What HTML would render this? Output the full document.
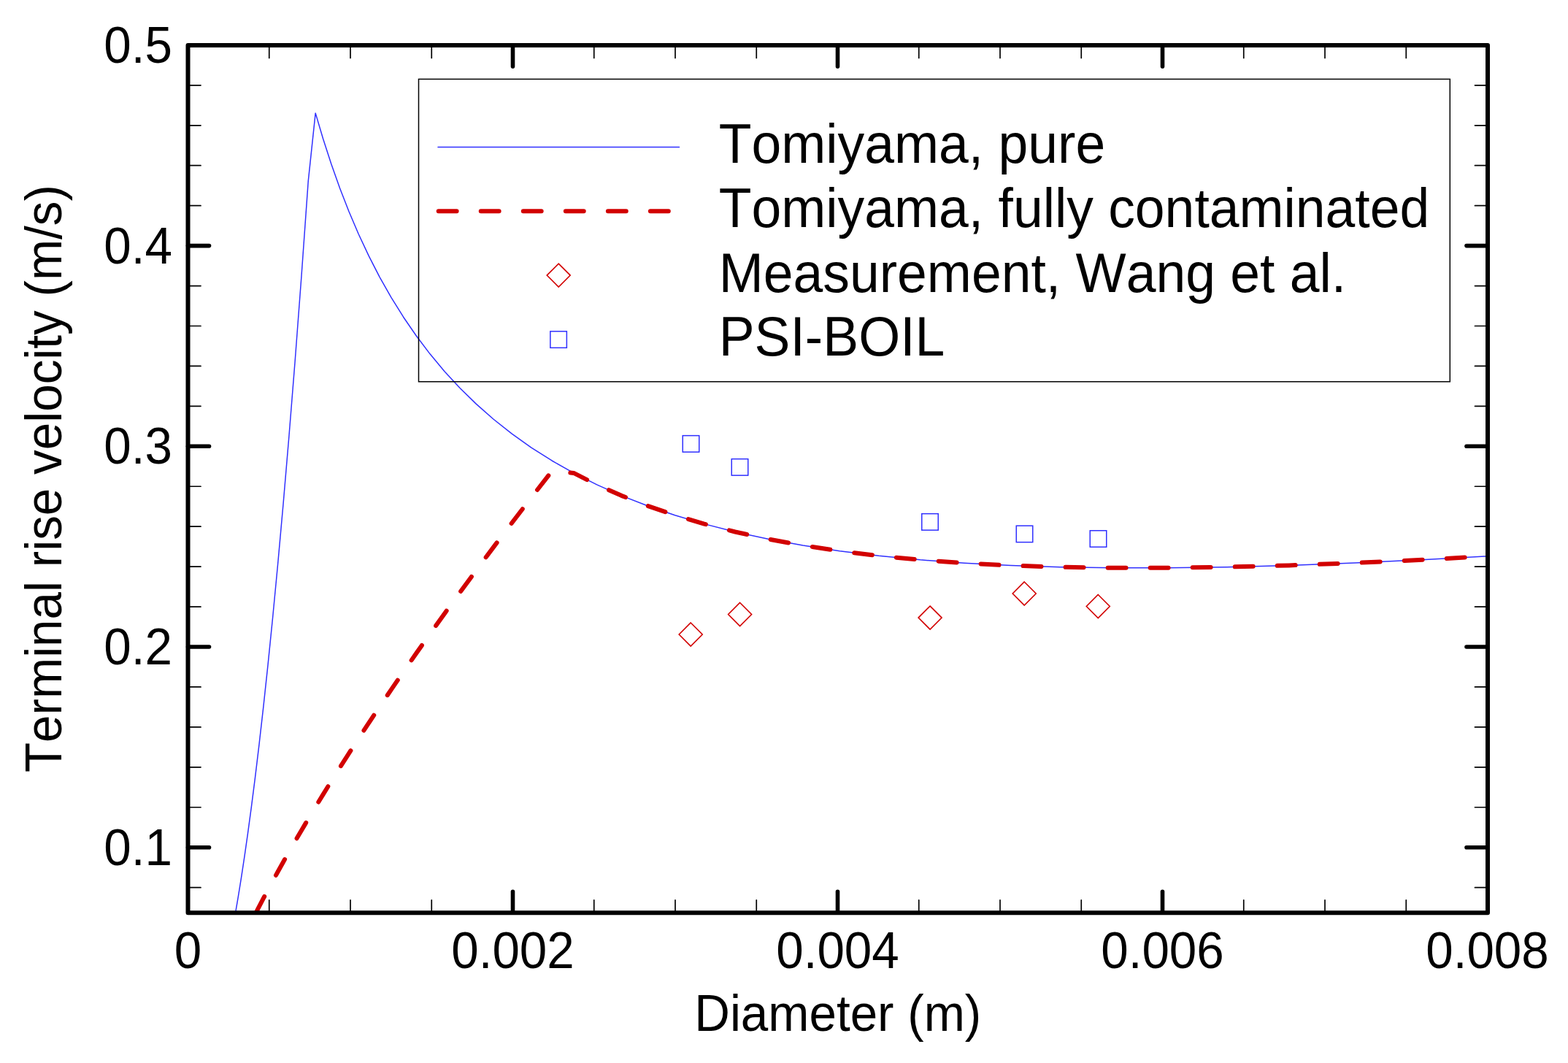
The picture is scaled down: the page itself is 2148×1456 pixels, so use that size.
<!DOCTYPE html>
<html><head><meta charset="utf-8"><style>
html,body{margin:0;padding:0;background:#fff;width:2148px;height:1456px;overflow:hidden}
svg{display:block}
text{font-family:"Liberation Sans",sans-serif;fill:#000;font-kerning:none;font-feature-settings:"kern" 0}
.tk{font-size:67.4px}
.lg{font-size:73.3px}
.mj{stroke:#000;stroke-width:5.6;stroke-linecap:round}
.mn{stroke:#000;stroke-width:1.7;stroke-linecap:round}
.rd{fill:none;stroke:#d20000;stroke-width:6;stroke-linecap:round;stroke-linejoin:round;stroke-dasharray:24.9 33.14}
.sq{fill:none;stroke:#3030ff;stroke-width:1.5}
.dm{fill:none;stroke:#d20000;stroke-width:1.6}
</style></head><body>
<svg width="2148" height="1456" viewBox="0 0 2148 1456">
<defs><clipPath id="pc"><rect x="257.5" y="61.9" width="1780.5" height="1188.3999999999999"/></clipPath></defs>
<rect width="2148" height="1456" fill="#fff"/>
<g clip-path="url(#pc)">
<polyline points="303.23,1343.95 305.97,1332.64 308.88,1319.94 311.96,1305.67 315.23,1289.64 318.69,1271.62 322.36,1251.38 326.26,1228.63 330.38,1203.07 334.75,1174.36 339.39,1142.09 344.30,1105.84 349.51,1065.11 355.03,1019.34 360.88,967.91 367.09,910.13 373.66,845.21 380.63,772.26 388.02,690.30 395.85,598.20 404.15,494.72 412.95,378.45 422.28,247.82 432.16,154.89 442.64,190.30 453.75,224.57 465.53,257.72 478.01,289.78 491.24,320.76 505.26,350.68 520.13,379.55 535.89,407.39 552.59,434.22 570.29,460.03 589.06,484.85 608.96,508.67 630.04,531.51 652.40,553.37 676.09,574.25 701.20,594.14 727.83,613.06 756.05,630.99 785.96,647.94 817.67,663.89 851.28,678.85 886.90,692.79 924.67,705.72 964.70,717.62 1007.13,728.48 1052.11,738.29 1099.78,747.04 1150.32,754.72 1203.89,761.32 1260.67,766.83 1320.86,771.25 1384.66,774.56 1452.29,776.75 1523.98,777.84 1599.97,777.81 1680.52,776.66 1765.90,774.40 1856.40,771.03 1952.34,766.55 2054.03,760.98 2161.82,754.32 2276.08,746.58" fill="none" stroke="#3030ff" stroke-width="1.5" stroke-linejoin="round"/>
<polyline points="303.23,1349.18 305.97,1343.00 308.88,1336.51 311.96,1329.70 315.23,1322.56 318.69,1315.08 322.36,1307.25 326.26,1299.07 330.38,1290.50 334.75,1281.55 339.39,1272.20 344.30,1262.42 349.51,1252.21 355.03,1241.55 360.88,1230.41 367.09,1218.78 373.66,1206.64 380.63,1193.96 388.02,1180.73 395.85,1166.91 404.15,1152.48 412.95,1137.41 422.28,1121.68 432.16,1105.25 442.64,1088.09 453.75,1070.17 465.53,1051.46 478.01,1031.91 491.24,1011.49 505.26,990.15 520.13,967.87 535.89,944.58 552.59,920.24 570.29,894.81 589.06,868.23 608.96,840.46 630.04,811.42 652.40,781.08 676.09,749.35 701.20,716.19 727.83,681.52 756.05,645.27 785.96,647.94 817.67,663.89 851.28,678.85 886.90,692.79 924.67,705.72 964.70,717.62 1007.13,728.48 1052.11,738.29 1099.78,747.04 1150.32,754.72 1203.89,761.32 1260.67,766.83 1320.86,771.25 1384.66,774.56 1452.29,776.75 1523.98,777.84 1599.97,777.81 1680.52,776.66 1765.90,774.40 1856.40,771.03 1952.34,766.55 2054.03,760.98 2161.82,754.32 2276.08,746.58" class="rd" stroke-dashoffset="-109.92"/>
</g>
<rect x="935.25" y="596.65" width="22.5" height="22.5" class="sq"/><rect x="1002.25" y="628.65" width="22.5" height="22.5" class="sq"/><rect x="1262.75" y="703.65" width="22.5" height="22.5" class="sq"/><rect x="1392.25" y="720.15" width="22.5" height="22.5" class="sq"/><rect x="1493.25" y="726.75" width="22.5" height="22.5" class="sq"/>
<path d="M946.20,853.00L962.20,869.00L946.20,885.00L930.20,869.00Z" class="dm"/><path d="M1013.60,825.50L1029.60,841.50L1013.60,857.50L997.60,841.50Z" class="dm"/><path d="M1274.10,830.10L1290.10,846.10L1274.10,862.10L1258.10,846.10Z" class="dm"/><path d="M1403.20,797.00L1419.20,813.00L1403.20,829.00L1387.20,813.00Z" class="dm"/><path d="M1504.30,814.50L1520.30,830.50L1504.30,846.50L1488.30,830.50Z" class="dm"/>

<rect x="573.5" y="108.4" width="1412.8" height="414.4" fill="none" stroke="#000" stroke-width="1.5"/>
<line x1="600" y1="201.5" x2="930.5" y2="201.5" stroke="#3030ff" stroke-width="1.5" stroke-linecap="round"/>
<line x1="600.7" y1="289.3" x2="930" y2="289.3" class="rd"/>
<path d="M765.2,361.1L781.2,377.1L765.2,393.1L749.2,377.1Z" class="dm"/>
<rect x="753.85" y="453.85" width="22.5" height="22.5" class="sq"/>
<text transform="translate(984.70,223.20) scale(1,1.049)" text-anchor="start" class="lg">Tomiyama, pure</text>
<text transform="translate(984.70,311.30) scale(1,1.049)" text-anchor="start" class="lg">Tomiyama, fully contaminated</text>
<text transform="translate(984.70,400.30) scale(1,1.049)" text-anchor="start" class="lg">Measurement, Wang et al.</text>
<text transform="translate(984.70,486.80) scale(1,1.049)" text-anchor="start" class="lg">PSI-BOIL</text>

<line x1="257.5" y1="1160.70" x2="286.5" y2="1160.70" class="mj"/><line x1="2038.0" y1="1160.70" x2="2009.0" y2="1160.70" class="mj"/><line x1="257.5" y1="886.00" x2="286.5" y2="886.00" class="mj"/><line x1="2038.0" y1="886.00" x2="2009.0" y2="886.00" class="mj"/><line x1="257.5" y1="611.30" x2="286.5" y2="611.30" class="mj"/><line x1="2038.0" y1="611.30" x2="2009.0" y2="611.30" class="mj"/><line x1="257.5" y1="336.60" x2="286.5" y2="336.60" class="mj"/><line x1="2038.0" y1="336.60" x2="2009.0" y2="336.60" class="mj"/><line x1="257.5" y1="1215.64" x2="275.0" y2="1215.64" class="mn"/><line x1="2038.0" y1="1215.64" x2="2020.5" y2="1215.64" class="mn"/><line x1="257.5" y1="1105.76" x2="275.0" y2="1105.76" class="mn"/><line x1="2038.0" y1="1105.76" x2="2020.5" y2="1105.76" class="mn"/><line x1="257.5" y1="1050.82" x2="275.0" y2="1050.82" class="mn"/><line x1="2038.0" y1="1050.82" x2="2020.5" y2="1050.82" class="mn"/><line x1="257.5" y1="995.88" x2="275.0" y2="995.88" class="mn"/><line x1="2038.0" y1="995.88" x2="2020.5" y2="995.88" class="mn"/><line x1="257.5" y1="940.94" x2="275.0" y2="940.94" class="mn"/><line x1="2038.0" y1="940.94" x2="2020.5" y2="940.94" class="mn"/><line x1="257.5" y1="831.06" x2="275.0" y2="831.06" class="mn"/><line x1="2038.0" y1="831.06" x2="2020.5" y2="831.06" class="mn"/><line x1="257.5" y1="776.12" x2="275.0" y2="776.12" class="mn"/><line x1="2038.0" y1="776.12" x2="2020.5" y2="776.12" class="mn"/><line x1="257.5" y1="721.18" x2="275.0" y2="721.18" class="mn"/><line x1="2038.0" y1="721.18" x2="2020.5" y2="721.18" class="mn"/><line x1="257.5" y1="666.24" x2="275.0" y2="666.24" class="mn"/><line x1="2038.0" y1="666.24" x2="2020.5" y2="666.24" class="mn"/><line x1="257.5" y1="556.36" x2="275.0" y2="556.36" class="mn"/><line x1="2038.0" y1="556.36" x2="2020.5" y2="556.36" class="mn"/><line x1="257.5" y1="501.42" x2="275.0" y2="501.42" class="mn"/><line x1="2038.0" y1="501.42" x2="2020.5" y2="501.42" class="mn"/><line x1="257.5" y1="446.48" x2="275.0" y2="446.48" class="mn"/><line x1="2038.0" y1="446.48" x2="2020.5" y2="446.48" class="mn"/><line x1="257.5" y1="391.54" x2="275.0" y2="391.54" class="mn"/><line x1="2038.0" y1="391.54" x2="2020.5" y2="391.54" class="mn"/><line x1="257.5" y1="281.66" x2="275.0" y2="281.66" class="mn"/><line x1="2038.0" y1="281.66" x2="2020.5" y2="281.66" class="mn"/><line x1="257.5" y1="226.72" x2="275.0" y2="226.72" class="mn"/><line x1="2038.0" y1="226.72" x2="2020.5" y2="226.72" class="mn"/><line x1="257.5" y1="171.78" x2="275.0" y2="171.78" class="mn"/><line x1="2038.0" y1="171.78" x2="2020.5" y2="171.78" class="mn"/><line x1="257.5" y1="116.84" x2="275.0" y2="116.84" class="mn"/><line x1="2038.0" y1="116.84" x2="2020.5" y2="116.84" class="mn"/><line x1="702.50" y1="1250.3" x2="702.50" y2="1221.3" class="mj"/><line x1="702.50" y1="61.9" x2="702.50" y2="90.9" class="mj"/><line x1="1147.50" y1="1250.3" x2="1147.50" y2="1221.3" class="mj"/><line x1="1147.50" y1="61.9" x2="1147.50" y2="90.9" class="mj"/><line x1="1592.50" y1="1250.3" x2="1592.50" y2="1221.3" class="mj"/><line x1="1592.50" y1="61.9" x2="1592.50" y2="90.9" class="mj"/><line x1="368.75" y1="1250.3" x2="368.75" y2="1232.8" class="mn"/><line x1="368.75" y1="61.9" x2="368.75" y2="79.4" class="mn"/><line x1="480.00" y1="1250.3" x2="480.00" y2="1232.8" class="mn"/><line x1="480.00" y1="61.9" x2="480.00" y2="79.4" class="mn"/><line x1="591.25" y1="1250.3" x2="591.25" y2="1232.8" class="mn"/><line x1="591.25" y1="61.9" x2="591.25" y2="79.4" class="mn"/><line x1="813.75" y1="1250.3" x2="813.75" y2="1232.8" class="mn"/><line x1="813.75" y1="61.9" x2="813.75" y2="79.4" class="mn"/><line x1="925.00" y1="1250.3" x2="925.00" y2="1232.8" class="mn"/><line x1="925.00" y1="61.9" x2="925.00" y2="79.4" class="mn"/><line x1="1036.25" y1="1250.3" x2="1036.25" y2="1232.8" class="mn"/><line x1="1036.25" y1="61.9" x2="1036.25" y2="79.4" class="mn"/><line x1="1258.75" y1="1250.3" x2="1258.75" y2="1232.8" class="mn"/><line x1="1258.75" y1="61.9" x2="1258.75" y2="79.4" class="mn"/><line x1="1370.00" y1="1250.3" x2="1370.00" y2="1232.8" class="mn"/><line x1="1370.00" y1="61.9" x2="1370.00" y2="79.4" class="mn"/><line x1="1481.25" y1="1250.3" x2="1481.25" y2="1232.8" class="mn"/><line x1="1481.25" y1="61.9" x2="1481.25" y2="79.4" class="mn"/><line x1="1703.75" y1="1250.3" x2="1703.75" y2="1232.8" class="mn"/><line x1="1703.75" y1="61.9" x2="1703.75" y2="79.4" class="mn"/><line x1="1815.00" y1="1250.3" x2="1815.00" y2="1232.8" class="mn"/><line x1="1815.00" y1="61.9" x2="1815.00" y2="79.4" class="mn"/><line x1="1926.25" y1="1250.3" x2="1926.25" y2="1232.8" class="mn"/><line x1="1926.25" y1="61.9" x2="1926.25" y2="79.4" class="mn"/>
<rect x="257.5" y="61.9" width="1780.5" height="1188.3999999999999" fill="none" stroke="#000" stroke-width="6.0" stroke-linejoin="round"/>
<text transform="translate(236.00,1184.60) scale(1,1.037)" text-anchor="end" class="tk">0.1</text><text transform="translate(236.00,909.90) scale(1,1.037)" text-anchor="end" class="tk">0.2</text><text transform="translate(236.00,635.20) scale(1,1.037)" text-anchor="end" class="tk">0.3</text><text transform="translate(236.00,360.50) scale(1,1.037)" text-anchor="end" class="tk">0.4</text><text transform="translate(236.00,85.80) scale(1,1.037)" text-anchor="end" class="tk">0.5</text>
<text transform="translate(257.50,1325.50) scale(1,1.037)" text-anchor="middle" class="tk">0</text><text transform="translate(702.50,1325.50) scale(1,1.037)" text-anchor="middle" class="tk">0.002</text><text transform="translate(1147.50,1325.50) scale(1,1.037)" text-anchor="middle" class="tk">0.004</text><text transform="translate(1592.50,1325.50) scale(1,1.037)" text-anchor="middle" class="tk">0.006</text><text transform="translate(2037.50,1325.50) scale(1,1.037)" text-anchor="middle" class="tk">0.008</text>
<text transform="translate(1147.75,1412.00) scale(1,1.037)" text-anchor="middle" class="tk">Diameter (m)</text>
<text transform="translate(84.20,655.60) rotate(-90) scale(1,1.037)" text-anchor="middle" class="tk">Terminal rise velocity (m/s)</text>
</svg>
</body></html>
